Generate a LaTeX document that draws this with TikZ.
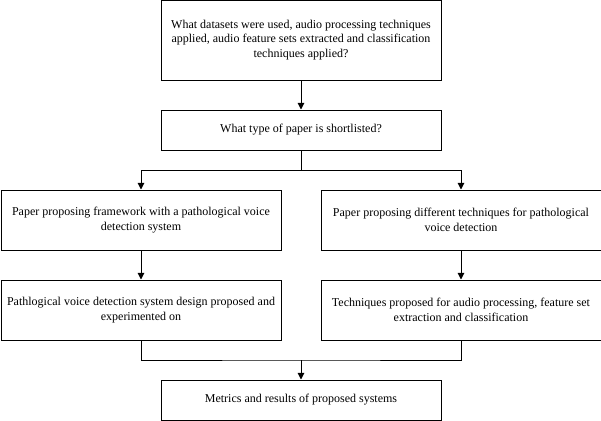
\documentclass[tikz,border=0pt]{standalone}
\usepackage{fontspec}
\setmainfont{Liberation Serif}
\usetikzlibrary{arrows.meta}
\tikzset{
	box/.style={draw, line width=0.75pt, align=center, inner xsep=1.5pt, minimum width=210pt, font=\fontsize{9}{11}\selectfont},
	arr/.style={-{Triangle[width=5pt,length=5pt]}, line width=0.75pt},
	line/.style={line width=0.75pt}
}
\begin{document}
\begin{tikzpicture}[x=0.75pt, y=-0.75pt]
			\useasboundingbox (0,0) rectangle (601,421);
			\node[box, minimum height=60pt] (datasets) at (301,40) {What datasets were used, audio processing techniques\\ applied, audio feature sets extracted and classification\\ techniques applied?};
			\node[box, minimum height=30pt] (papertype) at (301,130) {What type of paper is shortlisted?};
			\node[box, minimum height=45pt] (framework) at (141,220) {Paper proposing framework with a pathological voice\\ detection system};
			\node[box, minimum height=45pt] (techniques) at (461,220) {Paper proposing different techniques for pathological\\ voice detection};
			\node[box, minimum height=45pt] (design) at (141,310) {Pathlogical voice detection system design proposed and\\ experimented on};
			\node[box, minimum height=45pt] (proposed) at (461,310) {Techniques proposed for audio processing, feature set\\ extraction and classification};
			\node[box, minimum height=30pt] (metrics) at (301,400) {Metrics and results of proposed systems};
			\coordinate (split) at (301,170);
			\coordinate (merge) at (301,360);

			\draw[arr] (datasets) -- (papertype);
			\draw[line] (papertype) -- (split);
			\draw[arr] (split) -| (framework);
			\draw[arr] (split) -| (techniques);
			\draw[arr] (framework) -- (design);
			\draw[arr] (techniques) -- (proposed);
			\draw[line] (design) |- (merge) -| (proposed);
			\draw[arr] (merge) -- (metrics);
		\end{tikzpicture}
\end{document}
